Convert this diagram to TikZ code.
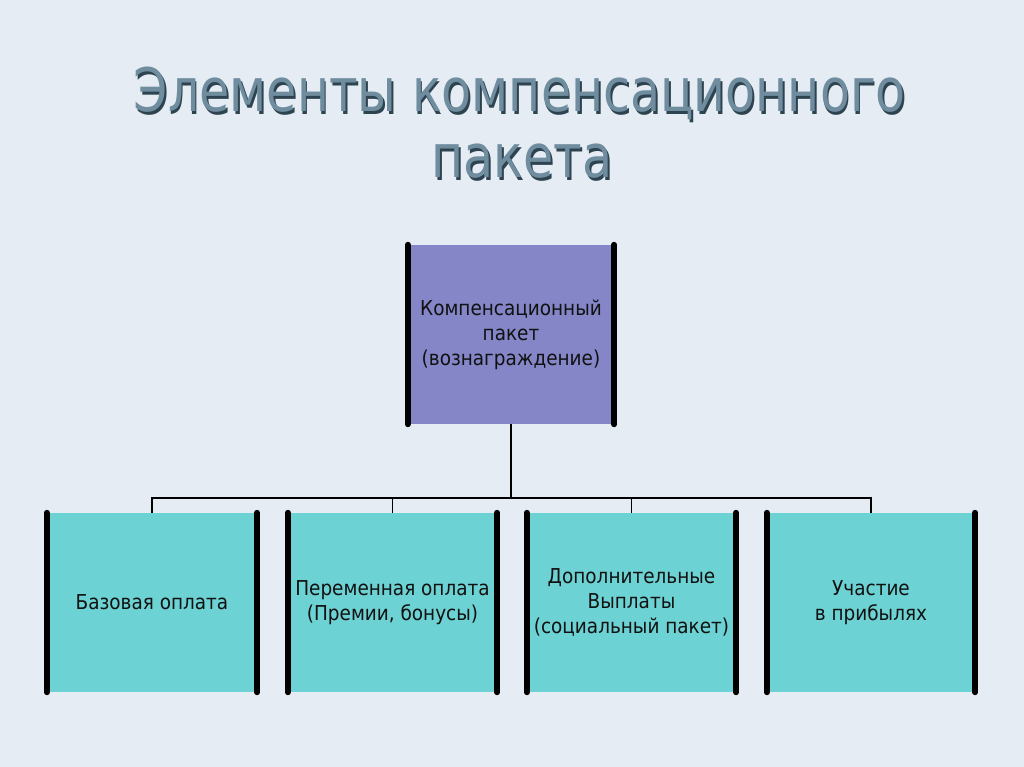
\documentclass[tikz,border=0pt]{standalone}
\usepackage{fontspec}
\setmainfont{DejaVu Sans Condensed}
\newfontfamily\titlefont{DejaVu Sans Condensed}
\definecolor{bgcol}{HTML}{E5ECF3}
\definecolor{topfill}{HTML}{8486C8}
\definecolor{botfill}{HTML}{6DD2D3}
\definecolor{titlecol}{HTML}{6F8D9E}
\definecolor{shadowcol}{HTML}{2E4350}
\definecolor{txtcol}{HTML}{111111}
\newcommand{\shadowed}[1]{\scalebox{0.91}[1]{\rlap{\hspace{2pt}\raisebox{-2.5pt}{\color{shadowcol}#1}}{\color{titlecol}#1}}}
\begin{document}
\begin{tikzpicture}[x=1pt,y=-1pt,
  boxbase/.style={inner sep=0pt, align=center, text=txtcol,
    font=\fontsize{20.5}{25}\selectfont},
  topbox/.style={boxbase, fill=topfill, minimum width=206pt, minimum height=179pt},
  botbox/.style={boxbase, fill=botfill, minimum width=210pt, minimum height=179pt},
  bar/.style={line width=6pt, black, line cap=round},
  conn/.style={line width=1.6pt, black},
  titletext/.style={font=\titlefont\fontsize{60}{62}\selectfont, inner sep=0pt, anchor=base}
]
\useasboundingbox (0,0) rectangle (1024,767);
\fill[bgcol] (0,0) rectangle (1024,767);
% title with shadow
\node[titletext] (t1) at (520,112) {\shadowed{Элементы компенсационного}};
\node[titletext] (t2) at (522,178) {\shadowed{пакета}};
% top box
\node[topbox] (top) at (511,334.5) {Компенсационный\\пакет\\(вознаграждение)};
\draw[bar] (top.north west) -- (top.south west);
\draw[bar] (top.north east) -- (top.south east);
% bottom boxes
\node[botbox] (b1) at (152,602.5) {Базовая оплата};
\node[botbox, minimum width=209pt] (b2) at (392.5,602.5) {Переменная оплата\\(Премии, бонусы)};
\node[botbox, minimum width=209pt] (b3) at (631.5,602.5) {Дополнительные\\Выплаты\\(социальный пакет)};
\node[botbox, minimum width=208pt] (b4) at (871,602.5) {Участие\\в прибылях};
\foreach \b in {b1,b2,b3,b4}{
  \draw[bar] (\b.north west) -- (\b.south west);
  \draw[bar] (\b.north east) -- (\b.south east);
}
% connectors
\coordinate (bus) at (511,498);
\draw[conn] (top.south) -- (bus);
\draw[conn] (b1.north) |- (bus);
\draw[conn] (b4.north) |- (bus);
\draw[conn] (b2.north) -- (b2.north |- bus);
\draw[conn] (b3.north) -- (b3.north |- bus);
\end{tikzpicture}
\end{document}
